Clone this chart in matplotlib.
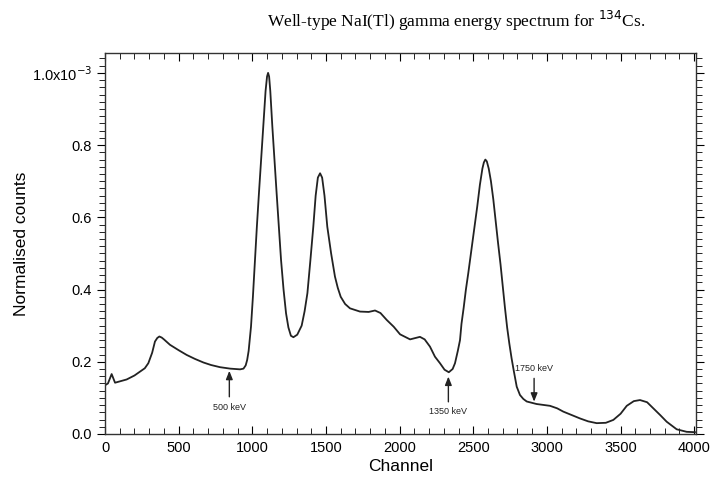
import matplotlib
matplotlib.use('Agg')
from matplotlib import pyplot as plt
from matplotlib.ticker import MultipleLocator, FixedLocator

# spectrum (counts in units of 1e-3)
channel = [0, 20, 45, 68, 147, 200, 238, 270, 294, 320, 339, 355, 369, 385, 400, 441,
           500, 554, 610, 668, 720, 781, 850, 917, 940, 955, 965, 975, 991, 1004, 1018,
           1031, 1045, 1060, 1075, 1090, 1100, 1107, 1114, 1122, 1136, 1150, 1165,
           1180, 1195, 1212, 1229, 1245, 1262, 1279, 1305, 1335, 1355, 1374, 1394,
           1414, 1430, 1445, 1460, 1474, 1490, 1509, 1535, 1561, 1580, 1600, 1630,
           1663, 1731, 1790, 1833, 1870, 1912, 1960, 2003, 2071, 2138, 2170, 2206,
           2240, 2274, 2305, 2334, 2360, 2376, 2395, 2410, 2420, 2435, 2450, 2466,
           2481, 2497, 2512, 2527, 2545, 2562, 2572, 2582, 2592, 2605, 2620, 2636,
           2652, 2668, 2685, 2700, 2715, 2730, 2745, 2760, 2775, 2795, 2817, 2840,
           2863, 2930, 3021, 3070, 3111, 3170, 3225, 3280, 3338, 3400, 3451, 3500,
           3542, 3590, 3632, 3680, 3723, 3770, 3813, 3881, 3949, 4005]
counts = [0.135, 0.14, 0.166, 0.142, 0.151, 0.162, 0.173, 0.182, 0.196, 0.225, 0.256,
          0.266, 0.27, 0.267, 0.262, 0.247, 0.232, 0.219, 0.208, 0.198, 0.191, 0.185,
          0.181, 0.179, 0.181, 0.19, 0.205, 0.23, 0.297, 0.38, 0.482, 0.575, 0.667,
          0.76, 0.851, 0.95, 0.99, 1.0, 0.99, 0.95, 0.851, 0.76, 0.667, 0.575, 0.482,
          0.40, 0.334, 0.295, 0.272, 0.268, 0.275, 0.30, 0.34, 0.39, 0.48, 0.574,
          0.66, 0.71, 0.722, 0.71, 0.66, 0.574, 0.50, 0.436, 0.405, 0.38, 0.36,
          0.348, 0.339, 0.338, 0.342, 0.335, 0.316, 0.297, 0.276, 0.262, 0.269,
          0.262, 0.242, 0.214, 0.196, 0.178, 0.171, 0.18, 0.196, 0.23, 0.26, 0.305,
          0.35, 0.40, 0.445, 0.49, 0.54, 0.585, 0.63, 0.69, 0.735, 0.752, 0.76,
          0.755, 0.735, 0.70, 0.65, 0.59, 0.53, 0.47, 0.41, 0.35, 0.295, 0.25, 0.21,
          0.175, 0.131, 0.108, 0.097, 0.09, 0.083, 0.078, 0.071, 0.062, 0.052, 0.043,
          0.035, 0.03, 0.031, 0.039, 0.056, 0.078, 0.091, 0.094, 0.088, 0.071, 0.052,
          0.034, 0.013, 0.006, 0.005]

# arrows: label, channel, tip, tail, text y
marks = [('500 keV', 844, 0.175, 0.103, 0.073),
         ('1350 keV', 2331, 0.159, 0.089, 0.062),
         ('1750 keV', 2913, 0.0895, 0.154, 0.182)]

ytick_vals = [0.0, 0.2, 0.4, 0.6, 0.8, 1.0]
ytick_labels = ['0.0', '0.2', '0.4', '0.6', '0.8', '1.0x10$^{-3}$']

plt.rcParams['font.family'] = ['Liberation Sans', 'DejaVu Sans']
fig = plt.figure(figsize=(7.12, 4.82), dpi=100)
ax = fig.add_axes([0.1475, 0.0996, 0.83, 0.7904])
ax.plot(channel, counts, color='#222222', lw=1.3)

for lab, c, tip, tail, ty in marks:
    ax.annotate('', xy=(c, tip), xytext=(c, tail),
                arrowprops=dict(arrowstyle='-|>,head_length=0.5,head_width=0.2',
                                color='#222222', lw=1.0, shrinkA=0, shrinkB=0))
    ax.text(c, ty, lab, ha='center', va='center', fontsize=6.5, color='#222222')

ax.set_xlim(0, 4012)
ax.set_ylim(0, 1.055)
ax.xaxis.set_major_locator(MultipleLocator(500))
ax.xaxis.set_minor_locator(MultipleLocator(100))
ax.yaxis.set_major_locator(FixedLocator(ytick_vals))
ax.set_yticklabels(ytick_labels)
ax.yaxis.set_minor_locator(MultipleLocator(0.02))
ax.tick_params(axis='x', which='both', direction='in', top=True, labelsize=10.5, pad=5)
ax.tick_params(axis='x', which='major', length=6)
ax.tick_params(axis='x', which='minor', length=4)
ax.tick_params(axis='y', which='both', direction='out', right=True, labelsize=10.5)
ax.tick_params(axis='y', which='major', length=6)
ax.tick_params(axis='y', which='minor', length=4)
for s in ax.spines.values():
    s.set_linewidth(1.0)
    s.set_color('#333333')

ax.set_xlabel('Channel', fontsize=12.5, labelpad=3)
ax.set_ylabel('Normalised counts', fontsize=12.5)
ax.yaxis.set_label_coords(-0.129, 0.5)
fig.text(0.64, 0.957, 'Well-type NaI(Tl) gamma energy spectrum for $^{134}$Cs.',
         ha='center', va='center', fontsize=12.5, family='Liberation Serif')

fig.savefig('out.png', dpi=100)
